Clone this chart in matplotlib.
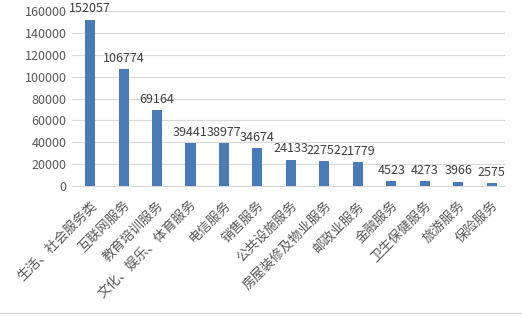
import matplotlib.pyplot as plt
from matplotlib.lines import Line2D

plt.rcParams['font.family'] = ['Noto Sans CJK SC', 'DejaVu Sans']

categories = ['生活、社会服务类', '互联网服务', '教育培训服务', '文化、娱乐、体育服务', '电信服务',
              '销售服务', '公共设施服务', '房屋装修及物业服务', '邮政业服务', '金融服务',
              '卫生保健服务', '旅游服务', '保险服务']
values = [152057, 106774, 69164, 39441, 38977, 34674, 24133, 22752, 21779, 4523, 4273, 3966, 2575]
yticks = [0, 20000, 40000, 60000, 80000, 100000, 120000, 140000, 160000]

fig = plt.figure(figsize=(5.22, 3.16), dpi=100)
ax = fig.add_axes([0.138, 0.411, 0.829, 0.554])

x = range(len(categories))
ax.bar(x, values, width=0.3, color='#4a7bb7', zorder=3)
for i, v in zip(x, values):
    ax.text(i, v + 4000, str(v), ha='center', va='bottom', fontsize=9,
            color='#404040', clip_on=False)

ax.set_ylim(0, 160000)
ax.set_xlim(-0.54, len(categories) - 0.61)
ax.set_yticks(yticks)
ax.set_yticklabels([str(t) for t in yticks], fontsize=9, color='#595959')
ax.set_xticks(list(x))
ax.set_xticklabels(categories, rotation=45, ha='right', va='top',
                   rotation_mode='anchor', fontsize=9.5, color='#595959')
ax.tick_params(axis='x', length=0, pad=9)
ax.tick_params(axis='y', length=0, pad=4)
ax.grid(axis='y', color='#d9d9d9', linewidth=0.8, zorder=0)
for s in ['top', 'right', 'left']:
    ax.spines[s].set_visible(False)
ax.spines['bottom'].set_color('#d9d9d9')

# thin frame line at the bottom of the chart area
fig.add_artist(Line2D([0, 1], [0.01, 0.01], transform=fig.transFigure,
                      color='#d9d9d9', linewidth=1))

fig.savefig('out.png', dpi=100)
